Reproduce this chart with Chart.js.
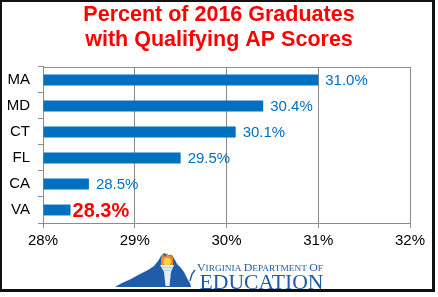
<!DOCTYPE html>
<html>
<head>
<meta charset="utf-8">
<script src="https://cdn.jsdelivr.net/npm/chart.js@4/dist/chart.umd.min.js"></script>
<style>
html,body{margin:0;padding:0;background:#fff;}
#wrap{position:relative;width:438px;height:297px;}
</style>
</head>
<body>
<div id="wrap"><canvas id="c" width="438" height="297"></canvas></div>
<script>
const categories = ["MA", "MD", "CT", "FL", "CA", "VA"];
const values = [31.0, 30.4, 30.1, 29.5, 28.5, 28.3];
const valueLabels = ["31.0%", "30.4%", "30.1%", "29.5%", "28.5%", "28.3%"];
const xTicks = [28, 29, 30, 31, 32];
const titleLines = ["Percent of 2016 Graduates", "with Qualifying AP Scores"];
const logoLine1 = "Virginia Department of";
const logoLine2 = "EDUCATION";

const BLUE = "#0070C0";
const RED = "#FF0000";

const valueLabelPlugin = {
  id: "valueLabels",
  afterDatasetsDraw(chart) {
    const ctx = chart.ctx;
    const meta = chart.getDatasetMeta(0);
    ctx.save();
    ctx.textBaseline = "middle";
    ctx.textAlign = "left";
    meta.data.forEach((bar, i) => {
      const highlight = categories[i] === "VA";
      ctx.fillStyle = highlight ? RED : BLUE;
      ctx.font = highlight ? "bold 20px 'Liberation Sans', Arial, sans-serif" : "15px 'Liberation Sans', Arial, sans-serif";
      ctx.fillText(valueLabels[i], bar.x + (highlight ? 2 : 7), bar.y + 1);
    });
    ctx.restore();
  }
};

function drawSmallCaps(ctx, text, x, y, width, big, small, family) {
  const parts = [];
  let total = 0;
  const words = text.split(" ");
  words.forEach((w, wi) => {
    const first = w[0].toUpperCase();
    const rest = w.slice(1).toUpperCase();
    ctx.font = big + "px " + family;
    const w1 = ctx.measureText(first).width;
    ctx.font = small + "px " + family;
    const w2 = ctx.measureText(rest).width;
    const sp = wi < words.length - 1 ? ctx.measureText(" ").width : 0;
    parts.push({ first, rest, w1, w2, sp });
    total += w1 + w2 + sp;
  });
  const sx = width / total;
  ctx.save();
  ctx.translate(x, y);
  ctx.scale(sx, 1);
  let cx = 0;
  parts.forEach(p => {
    ctx.font = big + "px " + family;
    ctx.fillText(p.first, cx, 0);
    cx += p.w1;
    ctx.font = small + "px " + family;
    ctx.fillText(p.rest, cx, 0);
    cx += p.w2 + p.sp;
  });
  ctx.restore();
}

function drawFitted(ctx, text, x, y, width, font) {
  ctx.font = font;
  const w = ctx.measureText(text).width;
  ctx.save();
  ctx.translate(x, y);
  ctx.scale(width / w, 1);
  ctx.fillText(text, 0, 0);
  ctx.restore();
}

const frameAndLogo = {
  id: "frameAndLogo",
  beforeDraw(chart) {
    const ctx = chart.ctx;
    ctx.save();
    ctx.fillStyle = "#fff";
    ctx.fillRect(0, 0, chart.width, chart.height);
    ctx.restore();
  },
  afterDraw(chart) {
    const ctx = chart.ctx;
    const a = chart.chartArea;
    ctx.save();
    // plot box top edge
    ctx.strokeStyle = "#8c8c8c";
    ctx.lineWidth = 1;
    ctx.beginPath();
    ctx.moveTo(a.left, a.top + 0.5);
    ctx.lineTo(a.right, a.top + 0.5);
    ctx.stroke();

    // logo: state shape
    const logoBlue = "#1F5CAA";
    ctx.fillStyle = logoBlue;
    const pts = [[115,287],[122,283],[131,279],[140,274],[148,270],[154,266],[158,261],[161,256],[164,253],[168,255],[172,255],[175,260],[177,264],[181,268],[184,272],[186,276],[188,280],[190,283],[191,287]];
    ctx.beginPath();
    ctx.moveTo(pts[0][0], pts[0][1]);
    for (let i = 1; i < pts.length; i++) ctx.lineTo(pts[i][0], pts[i][1]);
    ctx.closePath();
    ctx.fill();
    // torch cup and stem
    ctx.fillStyle = "#e4edf7";
    ctx.beginPath();
    ctx.moveTo(160, 265); ctx.lineTo(174, 265); ctx.lineTo(171, 272); ctx.lineTo(169.5, 286);
    ctx.lineTo(165.5, 286); ctx.lineTo(164, 272); ctx.closePath();
    ctx.fill();
    ctx.strokeStyle = "#a9c0dc";
    ctx.lineWidth = 0.8;
    ctx.beginPath(); ctx.moveTo(161, 267.5); ctx.lineTo(173, 267.5); ctx.moveTo(163, 270.5); ctx.lineTo(171, 270.5); ctx.stroke();
    // flame
    ctx.fillStyle = "#F0882A";
    ctx.beginPath();
    ctx.moveTo(161, 265); ctx.lineTo(161, 258); ctx.lineTo(163, 254); ctx.lineTo(165, 257); ctx.lineTo(167, 253);
    ctx.lineTo(169, 256); ctx.lineTo(171, 254); ctx.lineTo(173, 258); ctx.lineTo(173, 265); ctx.closePath();
    ctx.fill();
    ctx.fillStyle = "#FFD447";
    ctx.beginPath(); ctx.ellipse(167, 261.5, 3.8, 3.8, 0, 0, Math.PI * 2); ctx.fill();
    // quill mark
    ctx.strokeStyle = logoBlue; ctx.lineWidth = 1.4;
    ctx.beginPath(); ctx.moveTo(190, 281); ctx.lineTo(192, 274); ctx.lineTo(195, 270); ctx.stroke();

    // logo text
    ctx.fillStyle = logoBlue;
    ctx.textAlign = "left";
    ctx.textBaseline = "alphabetic";
    const fam = "'Liberation Serif', 'Times New Roman', serif";
    drawSmallCaps(ctx, logoLine1, 197, 270.5, 126, 11, 8.6, fam);
    drawFitted(ctx, logoLine2, 199.5, 288.5, 124, "20.5px " + fam);

    // outer frame
    ctx.fillStyle = "#111";
    ctx.fillRect(0, 0, 435, 2);
    ctx.fillRect(0, 0, 2, 292);
    ctx.fillRect(432, 0, 3, 292);
    ctx.fillRect(0, 289, 435, 3);
    ctx.restore();
  }
};

const chart = new Chart(document.getElementById("c"), {
  type: "bar",
  data: {
    labels: categories,
    datasets: [{
      data: values,
      backgroundColor: BLUE,
      borderWidth: 0,
      barPercentage: 0.42,
      categoryPercentage: 1.0,
      base: 28
    }]
  },
  options: {
    indexAxis: "y",
    responsive: false,
    animation: false,
    devicePixelRatio: 1,
    layout: { padding: { left: 0, right: 0, top: 0, bottom: 0 } },
    plugins: {
      legend: { display: false },
      tooltip: { enabled: false },
      title: {
        display: true,
        text: titleLines,
        color: RED,
        font: { family: "'Liberation Sans', Arial, sans-serif", size: 21.5, weight: "bold", lineHeight: 1.15 },
        padding: { top: 3, bottom: 14.5 }
      }
    },
    scales: {
      x: {
        type: "linear",
        min: 28,
        max: 32,
        afterBuildTicks(scale) { scale.ticks = xTicks.map(v => ({ value: v })); },
        afterFit(scale) { scale.height = 74; },
        ticks: {
          color: "#000",
          font: { family: "'Liberation Sans', Arial, sans-serif", size: 15 },
          padding: 4,
          callback: (v) => v + "%"
        },
        grid: { color: "#8c8c8c", lineWidth: 1, tickLength: 5, drawTicks: true },
        border: { display: true, color: "#8c8c8c" }
      },
      y: {
        type: "category",
        afterFit(scale) { scale.width = 43; },
        ticks: {
          color: "#000",
          font: { family: "'Liberation Sans', Arial, sans-serif", size: 15 },
          padding: 8
        },
        grid: { color: "#8c8c8c", drawOnChartArea: false, tickLength: 5, offset: true },
        border: { display: true, color: "#8c8c8c" }
      },
      yRight: {
        type: "linear",
        position: "right",
        display: true,
        afterFit(scale) { scale.width = 28; },
        ticks: { display: false },
        grid: { display: false, drawTicks: false },
        border: { display: false }
      }
    }
  },
  plugins: [valueLabelPlugin, frameAndLogo]
});
</script>
</body>
</html>
